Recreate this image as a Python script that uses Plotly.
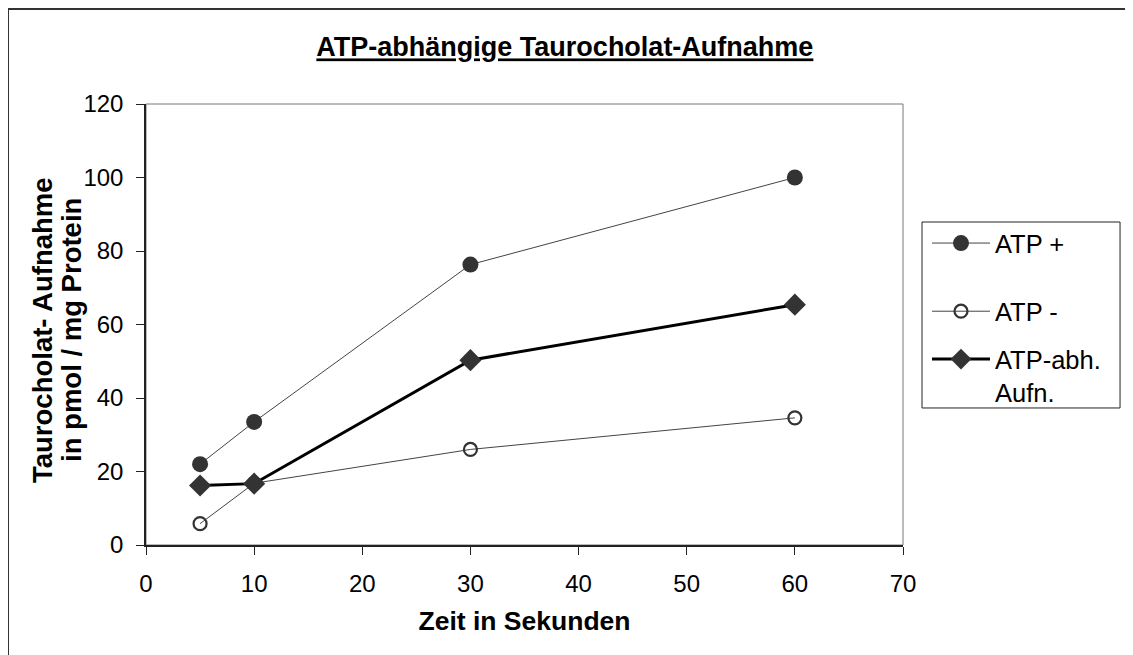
import plotly.graph_objects as go

zeit = [5, 10, 30, 60]
atp_plus = [22.0, 33.5, 76.3, 100.0]
atp_minus = [5.8, 16.8, 26.0, 34.6]
atp_abh = [16.2, 16.7, 50.3, 65.4]

names = ["ATP +", "ATP -", "ATP-abh.<br>Aufn."]
x_ticks = [0, 10, 20, 30, 40, 50, 60, 70]
y_ticks = [0, 20, 40, 60, 80, 100, 120]
title_text = "ATP-abhängige Taurocholat-Aufnahme"
x_title = "Zeit in Sekunden"
y_title_lines = ["Taurocholat- Aufnahme", "in pmol / mg Protein"]

FONT = "Liberation Sans, Arial, sans-serif"

fig = go.Figure()
fig.add_trace(go.Scatter(
    x=zeit, y=atp_plus, name=names[0], mode="lines+markers", legendgroup="a", legend="legend",
    line=dict(color="#444444", width=1),
    marker=dict(symbol="circle", size=16, color="#333333", line=dict(width=0))))
fig.add_trace(go.Scatter(
    x=zeit, y=atp_minus, name=names[1], mode="lines+markers", legendgroup="b", legend="legend",
    line=dict(color="#444444", width=1),
    marker=dict(symbol="circle-open", size=13, color="#333333", line=dict(width=2.2, color="#333333"))))
fig.add_trace(go.Scatter(
    x=zeit, y=atp_abh, name=names[2], mode="lines+markers", legendgroup="c", legend="legend2",
    line=dict(color="#000000", width=3),
    marker=dict(symbol="diamond", size=17, color="#333333", line=dict(width=0))))

legend_common = dict(xanchor="left", yanchor="top", borderwidth=0, bgcolor="rgba(0,0,0,0)",
                     traceorder="grouped", tracegroupgap=32, valign="top",
                     font=dict(family=FONT, size=25.5), entrywidth=180, entrywidthmode="pixels",
                     itemwidth=58)

fig.update_layout(
    width=1125, height=647,
    margin=dict(l=138, r=230, t=96, b=110),
    paper_bgcolor="white", plot_bgcolor="white",
    font=dict(family=FONT, size=24, color="black"),
    title=dict(text="<b>" + title_text + "</b>", xref="container", x=0.495, xanchor="center",
               yref="container", y=0.9397, yanchor="middle",
               font=dict(family=FONT, size=27, color="black", lineposition="under")),
    xaxis=dict(range=[0, 70], tickvals=x_ticks, ticks="outside", ticklen=8, tickwidth=1.3,
               tickcolor="#222222", showline=True, linecolor="#222222", linewidth=1.5,
               showgrid=False, zeroline=False, ticklabelstandoff=8,
               tickfont=dict(family=FONT, size=24),
               title=dict(text="<b>" + x_title + "</b>", standoff=16,
                          font=dict(family=FONT, size=26.5))),
    yaxis=dict(range=[0, 120], tickvals=y_ticks, ticks="outside", ticklen=8, tickwidth=1.3,
               tickcolor="#222222", showline=True, linecolor="#222222", linewidth=1.5,
               showgrid=False, zeroline=False, ticklabelstandoff=8,
               tickfont=dict(family=FONT, size=24)),
    legend=dict(x=1.0317, y=0.737, **legend_common),
    legend2=dict(x=1.0317, y=0.4739, **legend_common),
    showlegend=True,
)

# y-axis title as two tightly spaced lines
for xpos, line in zip([-0.1374, -0.0991], y_title_lines):
    fig.add_annotation(text="<b>" + line + "</b>", xref="paper", yref="paper",
                       x=xpos, y=0.4875, xanchor="center", yanchor="middle",
                       textangle=-90, showarrow=False,
                       font=dict(family=FONT, size=27.5, color="black"))

# legend frame
fig.add_shape(type="rect", xref="paper", yref="paper", x0=1.0251, x1=1.2867, y0=0.3107, y1=0.7324,
              line=dict(color="#222222", width=1), fillcolor="rgba(0,0,0,0)", layer="below")
# plot-area frame (top/right)
fig.add_shape(type="rect", xref="paper", yref="paper", x0=0, x1=1, y0=0, y1=1,
              line=dict(color="#777777", width=1), fillcolor="rgba(0,0,0,0)", layer="below")
# outer chart border
fig.add_shape(type="rect", xref="paper", yref="paper",
              x0=-0.1823, x1=1.32, y0=-0.28, y1=1.2154,
              line=dict(color="#333333", width=2), fillcolor="rgba(0,0,0,0)", layer="above")

fig.write_html("out.html")
